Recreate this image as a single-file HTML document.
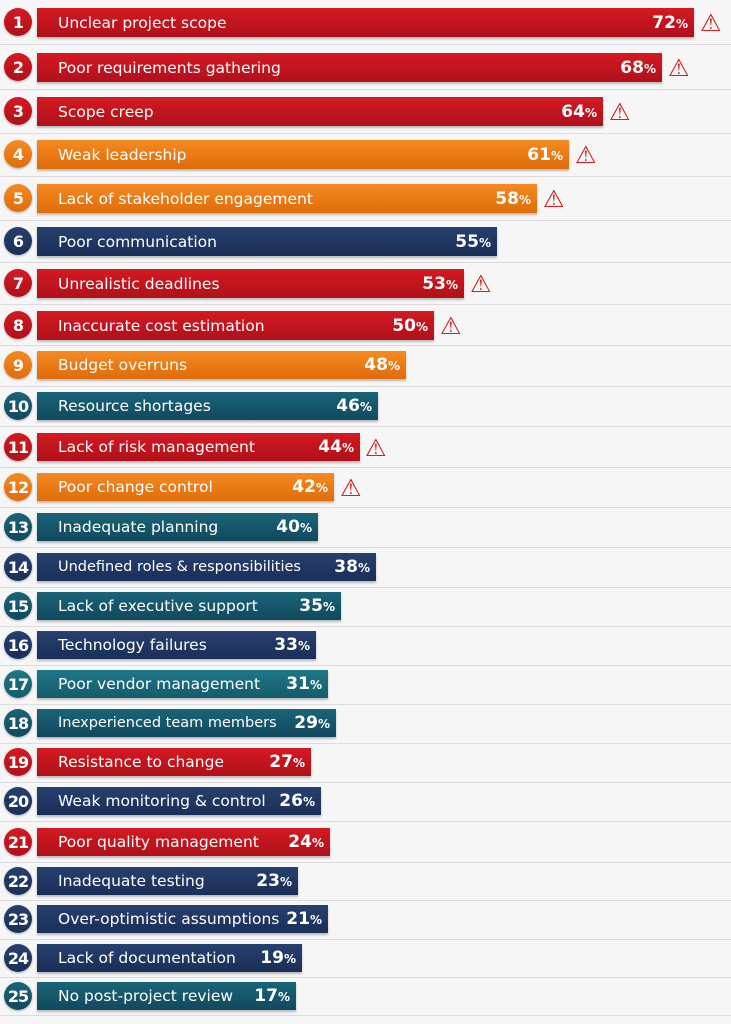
<!DOCTYPE html><html><head><meta charset="utf-8"><style>
body{margin:0;width:731px;height:1024px;background:#f6f6f7;position:relative;overflow:hidden;font-family:"DejaVu Sans","Liberation Sans",sans-serif}
.g{position:absolute;left:0;width:731px;height:1px;background:#dcdcdf}
.c{position:absolute;left:4px;width:28px;height:28px;border-radius:50%;color:#fff;font-weight:bold;font-size:16px;display:flex;align-items:center;justify-content:center;letter-spacing:-1px;box-shadow:0 1px 2px rgba(0,0,0,.3)}
.b{position:absolute;left:37px;color:#fff;font-size:15.5px;display:flex;align-items:center;box-sizing:border-box;padding-left:21px;box-shadow:0 2px 2px rgba(0,0,0,.25)}
.b span.p{position:absolute;right:6px;font-weight:bold;font-size:17px}
.b span.p small{font-size:12px}
.w{position:absolute;font-size:24px;color:#d02020;line-height:1}
.R{background:linear-gradient(#d41a22,#b0101a)}.O{background:linear-gradient(#f58a22,#e06c0a)}.N{background:linear-gradient(#27406e,#1a2f58)}.T{background:linear-gradient(#1a6478,#11495e)}.T2{background:linear-gradient(#1f7888,#145c6c)}
</style></head><body>
<div class="g" style="top:44px"></div><div class="g" style="top:89px"></div><div class="g" style="top:133px"></div><div class="g" style="top:176px"></div><div class="g" style="top:220px"></div><div class="g" style="top:262px"></div><div class="g" style="top:304px"></div><div class="g" style="top:345px"></div><div class="g" style="top:386px"></div><div class="g" style="top:426px"></div><div class="g" style="top:467px"></div><div class="g" style="top:507px"></div><div class="g" style="top:547px"></div><div class="g" style="top:587px"></div><div class="g" style="top:626px"></div><div class="g" style="top:665px"></div><div class="g" style="top:704px"></div><div class="g" style="top:743px"></div><div class="g" style="top:782px"></div><div class="g" style="top:821px"></div><div class="g" style="top:862px"></div><div class="g" style="top:900px"></div><div class="g" style="top:939px"></div><div class="g" style="top:977px"></div><div class="g" style="top:1015px"></div>

<div class="c R" style="top:8px">1</div><div class="b R" style="top:8px;height:29px;width:657px">Unclear project scope<span class="p">72<small>%</small></span></div><div class="w" style="left:700px;top:11px">⚠</div>
<div class="c R" style="top:53px">2</div><div class="b R" style="top:53px;height:29px;width:625px">Poor requirements gathering<span class="p">68<small>%</small></span></div><div class="w" style="left:668px;top:56px">⚠</div>
<div class="c R" style="top:97px">3</div><div class="b R" style="top:97px;height:29px;width:566px">Scope creep<span class="p">64<small>%</small></span></div><div class="w" style="left:609px;top:100px">⚠</div>
<div class="c O" style="top:140px">4</div><div class="b O" style="top:140px;height:29px;width:532px">Weak leadership<span class="p">61<small>%</small></span></div><div class="w" style="left:575px;top:143px">⚠</div>
<div class="c O" style="top:184px">5</div><div class="b O" style="top:184px;height:29px;width:500px">Lack of stakeholder engagement<span class="p">58<small>%</small></span></div><div class="w" style="left:543px;top:187px">⚠</div>
<div class="c N" style="top:227px">6</div><div class="b N" style="top:227px;height:29px;width:460px">Poor communication<span class="p">55<small>%</small></span></div>
<div class="c R" style="top:269px">7</div><div class="b R" style="top:269px;height:29px;width:427px">Unrealistic deadlines<span class="p">53<small>%</small></span></div><div class="w" style="left:470px;top:272px">⚠</div>
<div class="c R" style="top:311px">8</div><div class="b R" style="top:311px;height:29px;width:397px">Inaccurate cost estimation<span class="p">50<small>%</small></span></div><div class="w" style="left:440px;top:314px">⚠</div>
<div class="c O" style="top:351px">9</div><div class="b O" style="top:351px;height:28px;width:369px">Budget overruns<span class="p">48<small>%</small></span></div>
<div class="c T" style="top:392px">10</div><div class="b T" style="top:392px;height:28px;width:341px">Resource shortages<span class="p">46<small>%</small></span></div>
<div class="c R" style="top:433px">11</div><div class="b R" style="top:433px;height:28px;width:323px">Lack of risk management<span class="p">44<small>%</small></span></div><div class="w" style="left:365px;top:436px">⚠</div>
<div class="c O" style="top:473px">12</div><div class="b O" style="top:473px;height:28px;width:297px">Poor change control<span class="p">42<small>%</small></span></div><div class="w" style="left:340px;top:476px">⚠</div>
<div class="c T" style="top:513px">13</div><div class="b T" style="top:513px;height:28px;width:281px">Inadequate planning<span class="p">40<small>%</small></span></div>
<div class="c N" style="top:553px">14</div><div class="b N" style="top:553px;height:28px;width:339px;font-size:14.5px">Undefined roles &amp; responsibilities<span class="p">38<small>%</small></span></div>
<div class="c T" style="top:592px">15</div><div class="b T" style="top:592px;height:28px;width:304px">Lack of executive support<span class="p">35<small>%</small></span></div>
<div class="c N" style="top:631px">16</div><div class="b N" style="top:631px;height:28px;width:279px">Technology failures<span class="p">33<small>%</small></span></div>
<div class="c T2" style="top:670px">17</div><div class="b T2" style="top:670px;height:28px;width:291px">Poor vendor management<span class="p">31<small>%</small></span></div>
<div class="c T" style="top:709px">18</div><div class="b T" style="top:709px;height:28px;width:299px;font-size:14.5px">Inexperienced team members<span class="p">29<small>%</small></span></div>
<div class="c R" style="top:748px">19</div><div class="b R" style="top:748px;height:28px;width:274px">Resistance to change<span class="p">27<small>%</small></span></div>
<div class="c N" style="top:787px">20</div><div class="b N" style="top:787px;height:28px;width:284px">Weak monitoring &amp; control<span class="p">26<small>%</small></span></div>
<div class="c R" style="top:828px">21</div><div class="b R" style="top:828px;height:28px;width:293px">Poor quality management<span class="p">24<small>%</small></span></div>
<div class="c N" style="top:867px">22</div><div class="b N" style="top:867px;height:28px;width:261px">Inadequate testing<span class="p">23<small>%</small></span></div>
<div class="c N" style="top:905px">23</div><div class="b N" style="top:905px;height:28px;width:291px">Over-optimistic assumptions<span class="p">21<small>%</small></span></div>
<div class="c N" style="top:944px">24</div><div class="b N" style="top:944px;height:28px;width:265px">Lack of documentation<span class="p">19<small>%</small></span></div>
<div class="c T" style="top:982px">25</div><div class="b T" style="top:982px;height:28px;width:259px">No post-project review<span class="p">17<small>%</small></span></div>
</body></html>
